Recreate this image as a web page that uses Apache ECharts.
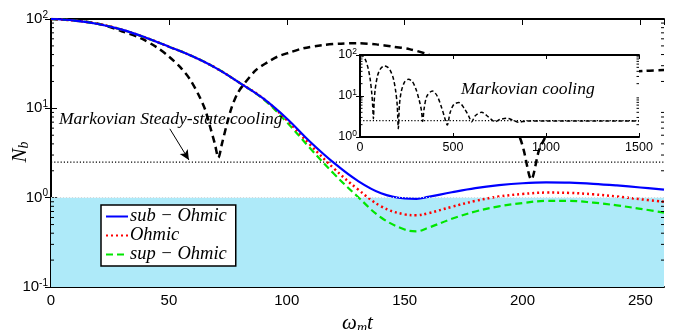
<!DOCTYPE html>
<html>
<head>
<meta charset="utf-8">
<script src="https://cdn.jsdelivr.net/npm/echarts@6/dist/echarts.min.js"></script>
<style>
  html, body { margin: 0; padding: 0; background: #fff; }
  #chart { width: 690px; height: 330px; }
</style>
</head>
<body>
<div id="chart"></div>
<script>
// main panel: time axis (omega_m t) and the three non-Markovian curves
const mainT = [0, 10, 20, 30, 40, 50, 60, 70, 80, 90, 100, 110, 120, 130, 140, 150, 155, 160, 170, 180, 190, 200, 210, 220, 230, 240, 250, 260]
const subOhmic = [100, 96, 88, 76, 62, 49, 38.2, 28.2, 19.3, 12.9, 7.7, 4.2, 2.45, 1.55, 1.12, 0.98, 0.97, 1.02, 1.15, 1.28, 1.38, 1.45, 1.48, 1.47, 1.43, 1.37, 1.3, 1.23]
const ohmic = [100, 96, 88, 76, 62, 49, 38.2, 28.2, 19.3, 12.9, 7.4, 3.9, 2.12, 1.25, 0.8, 0.65, 0.635, 0.67, 0.79, 0.92, 1.03, 1.1, 1.14, 1.13, 1.09, 1.03, 0.96, 0.9]
const supOhmic = [100, 96, 88, 76, 62, 49, 38.2, 28.2, 19.3, 12.7, 7.0, 3.55, 1.85, 1.03, 0.6, 0.44, 0.42, 0.46, 0.58, 0.7, 0.8, 0.87, 0.92, 0.92, 0.88, 0.82, 0.75, 0.68]

// Markovian curve in the main panel
const markovT = [0, 8, 15, 22, 30, 38, 45, 50, 55, 59, 63, 65.5, 67.5, 69.5, 71, 72.5, 74.5, 76.5, 79, 81.5, 87, 92, 96, 101, 107, 115, 123, 130, 138, 145, 152, 160, 170, 180, 188, 194, 198.7, 200.5, 203.7, 207, 209.7, 214, 220, 228, 236, 244, 252, 260]
const markovN = [100, 98, 93, 86, 73, 61, 48, 38, 28.5, 21, 13.5, 9.5, 6.2, 4, 2.8, 4, 6.5, 10, 14.5, 18.2, 26.9, 33, 37.8, 42, 47, 51, 53, 53.5, 52, 49, 46, 40, 31, 20, 12, 7.5, 4.8, 3.4, 1.6, 3.4, 4.8, 8.5, 13, 18.5, 22.5, 25, 26.3, 26.8]

// inset: Markovian cooling over a long time
const insetT = [0, 15, 30, 45, 55, 63, 68, 72, 76, 82, 95, 110, 131, 150, 165, 180, 192, 200, 206, 212, 222, 240, 260, 280, 300, 318, 330, 337, 345, 360, 389, 415, 440, 455, 469, 485, 505, 532, 560, 585, 600, 620, 654, 690, 726, 755, 789, 820, 850, 900, 1000, 1200, 1500]
const insetN = [100, 95, 75, 45, 25, 12, 6, 2.8, 7, 15, 32, 46, 54, 50, 40, 26, 13, 6, 1.6, 6, 13, 22, 25.5, 23, 15, 8, 4.5, 2.4, 5, 10, 13.3, 10, 5, 3, 1.96, 4, 6.3, 6.9, 5, 3.2, 2.36, 3.3, 4, 3.1, 2.36, 2.7, 2.86, 2.6, 2.3, 2.45, 2.45, 2.45, 2.45]

const steadyState = 2.5
const fillTop = 1
const arrowFrom = [50.4, 5.9]
const arrowTo = [58.5, 2.64]
const minorMain = [0.2, 0.3, 0.4, 0.5, 0.6, 0.7, 0.8, 0.9, 2, 3, 4, 5, 6, 7, 8, 9, 20, 30, 40, 50, 60, 70, 80, 90]
const minorInset = [2, 3, 4, 5, 6, 7, 8, 9, 20, 30, 40, 50, 60, 70, 80, 90]

const SANS = 'Liberation Sans, Arial, sans-serif'
const SERIF = 'Liberation Serif, Times New Roman, serif'

const zip = (xs, ys) => xs.map((x, i) => [x, ys[i]])

const powLabel = (size, sup) => ({
  formatter: v => '{b|10}{s|' + Math.round(Math.log10(v)) + '}',
  rich: {
    b: { fontSize: size, fontFamily: SANS, color: '#000' },
    s: { fontSize: sup, fontFamily: SANS, color: '#000', padding: [0, 0, size * 0.55, 0] }
  }
})

// minor log ticks on both sides of a grid
function minorTicks(xi, yi, vals, len, z) {
  return {
    type: 'custom',
    xAxisIndex: xi,
    yAxisIndex: yi,
    silent: true,
    z: z,
    clip: false,
    data: vals.map(v => [0, v]),
    renderItem: (params, api) => {
      const cs = params.coordSys
      const y = api.coord([api.value(0), api.value(1)])[1]
      const st = { stroke: '#000', lineWidth: 1 }
      return {
        type: 'group',
        children: [
          { type: 'line', shape: { x1: cs.x, y1: y, x2: cs.x + len, y2: y }, style: st },
          { type: 'line', shape: { x1: cs.x + cs.width - len, y1: y, x2: cs.x + cs.width, y2: y }, style: st }
        ]
      }
    }
  }
}

const chart = echarts.init(document.getElementById('chart'))

const axLine = { show: true, lineStyle: { color: '#000', width: 2 } }

const option = {
  animation: false,
  backgroundColor: '#fff',
  grid: [
    { left: 51, right: 26, top: 19, bottom: 43, outerBoundsMode: 'none', containLabel: false },
    { left: 360, top: 55, width: 279, height: 82, outerBoundsMode: 'none', containLabel: false, show: true, backgroundColor: '#fff', borderWidth: 0, z: 5 }
  ],
  legend: {
    data: ['sub − Ohmic', 'Ohmic', 'sup − Ohmic'],
    orient: 'vertical',
    left: 101,
    top: 205,
    padding: [2, 9, 2, 4],
    itemGap: 0,
    itemWidth: 22,
    itemHeight: 12,
    itemStyle: { opacity: 0 },
    borderColor: '#000',
    borderWidth: 1.5,
    borderRadius: 0,
    backgroundColor: '#fff',
    textStyle: { fontFamily: SERIF, fontStyle: 'italic', fontSize: 18.5, lineHeight: 16.5, color: '#000', padding: [0, 0, 0, -3] },
    z: 20
  },
  xAxis: [
    {
      type: 'value', gridIndex: 0, min: 0, max: 260, interval: 50,
      axisLine: axLine,
      axisTick: { inside: true, length: 6, lineStyle: { color: '#000' } },
      splitLine: { show: false },
      axisLabel: { fontSize: 15, fontFamily: SANS, color: '#000', margin: 6, showMaxLabel: false },
      name: '{w|ω}{m|m}{w|t}',
      nameLocation: 'middle',
      nameGap: 18,
      nameTextStyle: {
        rich: {
          w: { fontSize: 21, fontFamily: SERIF, fontStyle: 'italic', color: '#000' },
          m: { fontSize: 14, fontFamily: SERIF, fontStyle: 'italic', color: '#000', padding: [9, 0, 0, 0] }
        }
      }
    },
    {
      type: 'value', gridIndex: 0, min: 0, max: 260, interval: 50, position: 'top',
      axisLine: axLine,
      axisTick: { inside: true, length: 6, lineStyle: { color: '#000' } },
      splitLine: { show: false },
      axisLabel: { show: false }
    },
    {
      type: 'value', gridIndex: 1, min: 0, max: 1500, interval: 500, z: 6,
      axisLine: axLine,
      axisTick: { inside: true, length: 4, lineStyle: { color: '#000' } },
      splitLine: { show: false },
      axisLabel: { fontSize: 12.5, fontFamily: SANS, color: '#000', margin: 4, formatter: v => String(v) }
    },
    {
      type: 'value', gridIndex: 1, min: 0, max: 1500, interval: 500, position: 'top', z: 6,
      axisLine: axLine,
      axisTick: { inside: true, length: 4, lineStyle: { color: '#000' } },
      splitLine: { show: false },
      axisLabel: { show: false }
    }
  ],
  yAxis: [
    {
      type: 'log', gridIndex: 0, min: 0.1, max: 100, logBase: 10,
      axisLine: axLine,
      axisTick: { inside: true, length: 6, lineStyle: { color: '#000' } },
      splitLine: { show: false },
      axisLabel: Object.assign({ margin: 3 }, powLabel(15, 10))
    },
    {
      type: 'log', gridIndex: 0, min: 0.1, max: 100, logBase: 10, position: 'right',
      axisLine: axLine,
      axisTick: { inside: true, length: 6, lineStyle: { color: '#000' } },
      splitLine: { show: false },
      axisLabel: { show: false }
    },
    {
      type: 'log', gridIndex: 1, min: 1, max: 100, logBase: 10, z: 6,
      axisLine: axLine,
      axisTick: { inside: true, length: 4, lineStyle: { color: '#000' } },
      splitLine: { show: false },
      axisLabel: Object.assign({ margin: 3 }, powLabel(12.5, 8.5))
    },
    {
      type: 'log', gridIndex: 1, min: 1, max: 100, logBase: 10, position: 'right', z: 6,
      axisLine: axLine,
      axisTick: { inside: true, length: 4, lineStyle: { color: '#000' } },
      splitLine: { show: false },
      axisLabel: { show: false }
    }
  ],
  graphic: [
    {
      type: 'text', x: 20, y: 152, rotation: Math.PI / 2, z: 30,
      style: {
        text: '{n|N}{b|b}',
        align: 'center',
        verticalAlign: 'middle',
        rich: {
          n: { fontSize: 21, fontFamily: SERIF, fontStyle: 'italic', fill: '#000' },
          b: { fontSize: 14, fontFamily: SERIF, fontStyle: 'italic', fill: '#000', padding: [9, 0, 0, 0] }
        }
      }
    },
    {
      type: 'text', left: 59, top: 110, z: 30,
      style: { text: 'Markovian Steady-state cooling', fontFamily: SERIF, fontStyle: 'italic', fontSize: 17.5, fill: '#000' }
    },
    {
      type: 'text', left: 461, top: 80, z: 30,
      style: { text: 'Markovian cooling', fontFamily: SERIF, fontStyle: 'italic', fontSize: 17.5, fill: '#000' }
    }
  ],
  series: [
    {
      name: 'fill', type: 'line', xAxisIndex: 0, yAxisIndex: 0, z: 1,
      data: [[0, fillTop]], symbol: 'none', lineStyle: { opacity: 0 },
      markArea: {
        silent: true,
        itemStyle: { color: '#aeeaf9' },
        data: [[{ xAxis: 0, yAxis: 0.1 }, { xAxis: 260, yAxis: fillTop }]]
      },
      markLine: {
        silent: true, symbol: 'none', label: { show: false },
        lineStyle: { color: '#d8d8d8', type: [1, 2], width: 1 },
        data: [{ yAxis: fillTop }]
      }
    },
    {
      name: 'steady', type: 'line', xAxisIndex: 0, yAxisIndex: 0, z: 2,
      data: [[0, steadyState], [260, steadyState]], symbol: 'none',
      lineStyle: { color: '#000', width: 1.2, type: [1.2, 2] },
      markLine: {
        silent: true, label: { show: false },
        symbol: ['none', 'arrow'], symbolSize: [7, 10],
        lineStyle: { color: '#000', width: 1, type: 'solid' },
        data: [[{ coord: arrowFrom }, { coord: arrowTo }]]
      }
    },
    {
      name: 'markov', type: 'line', xAxisIndex: 0, yAxisIndex: 0, z: 2,
      data: zip(markovT, markovN), symbol: 'none', smooth: 0.3,
      lineStyle: { color: '#000', width: 2.5, type: [7, 4.5] }
    },
    {
      name: 'sup − Ohmic', type: 'line', xAxisIndex: 0, yAxisIndex: 0, z: 3,
      data: zip(mainT, supOhmic), symbol: 'none', smooth: 0.4,
      itemStyle: { color: '#00e600' },
      lineStyle: { color: '#00e600', width: 2.2, type: [7, 4] }
    },
    {
      name: 'Ohmic', type: 'line', xAxisIndex: 0, yAxisIndex: 0, z: 3,
      data: zip(mainT, ohmic), symbol: 'none', smooth: 0.4,
      itemStyle: { color: '#ff0000' },
      lineStyle: { color: '#ff0000', width: 2.5, type: [2, 3] }
    },
    {
      name: 'sub − Ohmic', type: 'line', xAxisIndex: 0, yAxisIndex: 0, z: 3,
      data: zip(mainT, subOhmic), symbol: 'none', smooth: 0.4,
      itemStyle: { color: '#0000ff' },
      lineStyle: { color: '#0000ff', width: 2.2 }
    },
    minorTicks(0, 0, minorMain, 3, 4),
    {
      name: 'insetSteady', type: 'line', xAxisIndex: 2, yAxisIndex: 2, z: 7,
      data: [[0, steadyState], [1500, steadyState]], symbol: 'none',
      lineStyle: { color: '#000', width: 1.2, type: [1.2, 2] }
    },
    {
      name: 'insetMarkov', type: 'line', xAxisIndex: 2, yAxisIndex: 2, z: 7,
      data: zip(insetT, insetN), symbol: 'none', smooth: 0.3,
      lineStyle: { color: '#000', width: 1.5, type: [4, 2.5] }
    },
    minorTicks(2, 2, minorInset, 2.5, 8)
  ]
}

chart.setOption(option)
</script>
</body>
</html>
